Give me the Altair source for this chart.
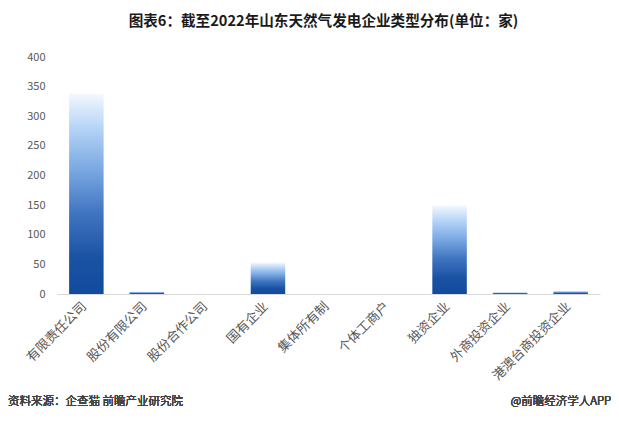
import altair as alt
import pandas as pd

categories = ["有限责任公司", "股份有限公司", "股份合作公司", "国有企业", "集体所有制",
              "个体工商户", "独资企业", "外商投资企业", "港澳台商投资企业"]
values = [338, 4, 0, 53, 0, 0, 149, 3, 5]
y_ticks = [0, 50, 100, 150, 200, 250, 300, 350, 400]

df = pd.DataFrame({"cat": categories, "val": values})

FONT = "Noto Sans CJK SC"

grad = {
    "gradient": "linear",
    "x1": 0, "y1": 1, "x2": 0, "y2": 0,
    "stops": [
        {"offset": 0.0, "color": "#124b9e"},
        {"offset": 0.18, "color": "#1a52a3"},
        {"offset": 0.4, "color": "#3f74c0"},
        {"offset": 0.62, "color": "#7aa8e2"},
        {"offset": 0.82, "color": "#b3d2f6"},
        {"offset": 1.0, "color": "#f3f8fe"},
    ],
}

bars = alt.Chart(df).mark_bar(color=grad).encode(
    x=alt.X("cat:N", sort=categories, title=None,
            scale=alt.Scale(paddingInner=0.43, paddingOuter=0.2),
            axis=alt.Axis(labelAngle=-45, labelAlign="right", labelBaseline="middle",
                          labelFont=FONT, labelFontSize=13,
                          labelColor="#595959", ticks=False, domainColor="#d9d9d9",
                          labelPadding=10, labelOffset=-2)),
    y=alt.Y("val:Q", title=None,
            scale=alt.Scale(domain=[0, 400]),
            axis=alt.Axis(values=y_ticks, grid=False, domain=False, ticks=False,
                          labelFont=FONT, labelFontSize=11, labelColor="#595959",
                          labelPadding=12)),
)

src = alt.Chart(df).mark_text(align="left", baseline="middle", font=FONT,
                              fontSize=11.5, fontWeight=300, color="#444444").encode(
    x=alt.value(-49), y=alt.value(345), text=alt.value("资料来源：企查猫 前瞻产业研究院"))

brand = alt.Chart(df).mark_text(align="right", baseline="middle", font=FONT,
                                fontSize=11.5, fontWeight=300, color="#444444").encode(
    x=alt.value(554), y=alt.value(345), text=alt.value("@前瞻经济学人APP"))

chart = alt.layer(bars, src, brand).properties(
    width=543, height=237,
    autosize=alt.AutoSizeParams(type="none"),
    padding={"left": 49, "top": 49, "right": 11, "bottom": 122},
    title=alt.TitleParams("图表6：截至2022年山东天然气发电企业类型分布(单位：家)",
                          font=FONT, fontSize=14.6, fontWeight="bold", color="#1a1a1a",
                          anchor="middle", offset=22, dx=-5),
).configure_view(stroke=None)

chart.save("out.html", embed_options={"renderer": "svg", "actions": False})
